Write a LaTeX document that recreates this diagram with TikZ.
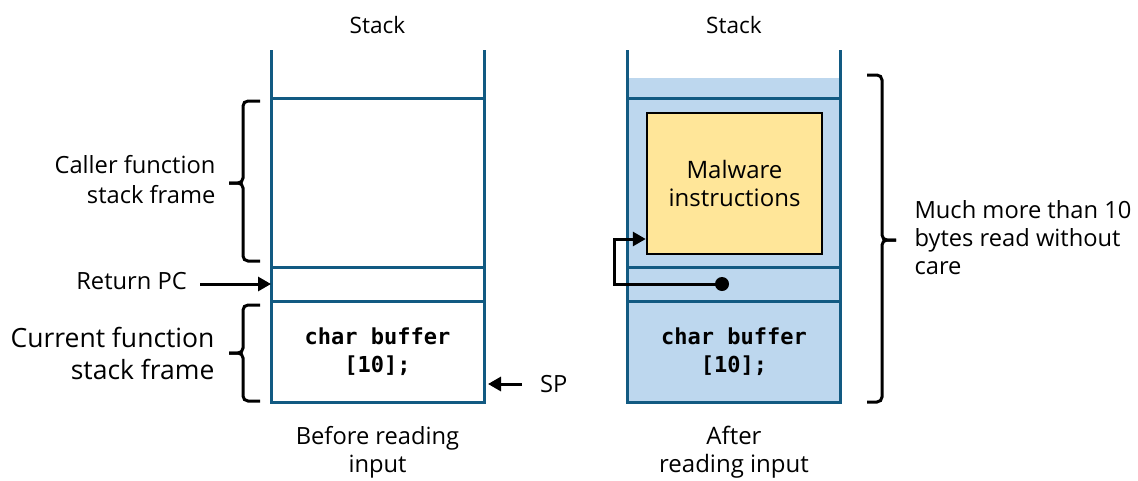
\documentclass[tikz,border=0pt]{standalone}
\usepackage{fontspec}
\setmainfont{Open Sans}
\setmonofont{DejaVu Sans Mono}
\usetikzlibrary{arrows.meta,calc,positioning}
\definecolor{stackblue}{RGB}{18,90,130}
\definecolor{fillblue}{RGB}{189,215,238}
\definecolor{malyellow}{RGB}{255,230,153}

\begin{document}
\begin{tikzpicture}[x=1pt,y=-1pt,>={Triangle[length=13pt,width=14pt]},node distance=0pt,
  every node/.style={font=\fontsize{23.7}{28}\selectfont}]
\tikzset{cell/.style={draw=stackblue,line width=3pt,minimum width=213pt,inner sep=0pt,outer sep=0pt,align=center},
  code/.style={font=\fontsize{22}{28}\selectfont\ttfamily\bfseries},
  brace/.style={line width=3pt,rounded corners=5pt},
  conn/.style={->,line width=3pt}}
\useasboundingbox (0,0) rectangle (1138,480);
% before reading input
\node[font=\fontsize{22.6}{28}\selectfont] (stackA) at (377.5,25) {Stack};
\node[cell,minimum height=169pt] (callerA) at (377.5,182.5) {};
\node[cell,minimum height=34pt,below=of callerA] (retA) {};
\node[cell,code,minimum height=101pt,below=of retA] (bufA) {char buffer\\{}[10];};
\draw[stackblue,line width=3pt] (callerA.north west) -- ++(0,-48) (callerA.north east) -- ++(0,-48);
\node[align=center] (beforeA) at (377.5,452) {Before reading\\input};
\node[align=right,anchor=east,font=\fontsize{23.7}{30}\selectfont] (callerlbl) at (219,180) {Caller function\\stack frame};
\node[align=right,anchor=east,font=\fontsize{26.5}{32}\selectfont] (curlbl) at (218,353) {Current function\\stack frame};
\node[anchor=east,inner sep=2pt] (retlbl) at (189,281) {Return PC};
\node[anchor=west,inner sep=2pt] (splbl) at (538,384) {SP};
\draw[conn] (retlbl.east |- retA) ++(11,0) -- (retA.west);
\draw[conn] (splbl.west) ++(-16,0) -- ($(bufA.east |- splbl)+(4,0)$);
\draw[brace] (260,101) -| (243,183) -- (229,183);
\draw[brace] (229,183) -- (243,183) |- (260,261);
\draw[brace] (260,305) -| (243,353) -- (229,353);
\draw[brace] (229,353) -- (243,353) |- (260,401);
% after reading input
\node[font=\fontsize{22.6}{28}\selectfont] (stackB) at (734,25) {Stack};
\node[fill=fillblue,minimum width=213pt,minimum height=20pt,inner sep=0pt] (spillB) at (734,88) {};
\node[cell,fill=fillblue,minimum height=169pt,below=of spillB] (callerB) {};
\node[cell,fill=fillblue,minimum height=34pt,below=of callerB] (retB) {};
\node[cell,code,fill=fillblue,minimum height=101pt,below=of retB] (bufB) {char buffer\\{}[10];};
\draw[stackblue,line width=3pt] (callerB.north west) -- ++(0,-48) (callerB.north east) -- ++(0,-48);
\node[draw,line width=2.5pt,fill=malyellow,minimum width=175pt,minimum height=141pt,align=center,
  font=\fontsize{24}{28}\selectfont] (mal) at (734.5,183.5) {Malware\\instructions};
\node[circle,fill,inner sep=0pt,minimum size=14pt] (dot) at (722,284) {};
\coordinate (bend) at (614,239);
\draw[conn] (dot.center) -| (bend) -- (bend -| mal.west);
\node[align=center,font=\fontsize{24}{28}\selectfont] (afterB) at (734,452) {After\\reading input};
\draw[brace] (867,75) -| (882,240) -- (896,240);
\draw[brace] (896,240) -- (882,240) |- (867,402);
\node[align=left,anchor=west,font=\fontsize{23.7}{28}\selectfont] (muchlbl) at (911,238) {Much more than 10\\bytes read without\\care};
\end{tikzpicture}
\end{document}
